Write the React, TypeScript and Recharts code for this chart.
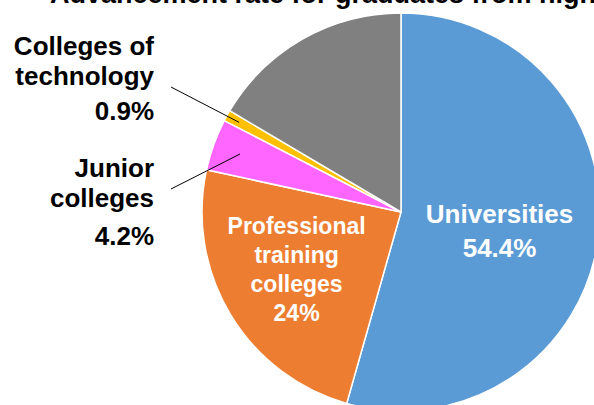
import React from "react";
import { PieChart, Pie, Cell } from "recharts";

const CATEGORIES = [
  "Universities",
  "Professional training colleges",
  "Junior colleges",
  "Colleges of technology",
  "Other",
];
const SHARES = [54.4, 24, 4.2, 0.9, 16.5];
const COLORS = ["#5B9BD5", "#ED7D31", "#FF66FF", "#FFC000", "#808080"];

const TITLE = "Advancement rate for graduates from high school";

const FONT = '"Liberation Sans", Arial, Helvetica, sans-serif';
const RAD = Math.PI / 180;

const data = CATEGORIES.map((name, i) => ({ name, value: SHARES[i] }));

type LabelCfg = {
  lines: string[];
  inside: boolean;
  size: number;
  lh: number;
  r?: number;
  nudge?: [number, number];
  // outside labels: right edge / first baseline relative to centre, leader line
  tx?: number;
  ty?: number[];
  lineFrom?: number;
  lineTo?: [number, number];
};

const LABELS: Record<string, LabelCfg> = {
  Universities: { lines: ["Universities"], inside: true, size: 26, lh: 34, r: 0.5, nudge: [0, 5] },
  "Professional training colleges": {
    lines: ["Professional", "training", "colleges"],
    inside: true,
    size: 23,
    lh: 29,
    r: 0.6,
    nudge: [-2, -4],
  },
  "Junior colleges": {
    lines: ["Junior", "colleges"],
    inside: false,
    size: 26,
    lh: 30,
    tx: -247,
    ty: [-35, -5, 33],
    lineFrom: 0.86,
    lineTo: [-230, -23],
  },
  "Colleges of technology": {
    lines: ["Colleges of", "technology"],
    inside: false,
    size: 26,
    lh: 30,
    tx: -247,
    ty: [-157, -127, -92],
    lineFrom: 0.93,
    lineTo: [-230, -125],
  },
};

function renderLabel(props: any) {
  const { cx, cy, midAngle, outerRadius, name, value } = props;
  const cfg = LABELS[name];
  if (!cfg) return null;
  const lines = [...cfg.lines, `${value}%`];
  if (cfg.inside) {
    const r = outerRadius * (cfg.r ?? 0.5);
    const x = cx + r * Math.cos(-midAngle * RAD) + (cfg.nudge?.[0] ?? 0);
    const y = cy + r * Math.sin(-midAngle * RAD) + (cfg.nudge?.[1] ?? 0);
    return (
      <text x={x} y={y} fill="#fff" fontSize={cfg.size} fontWeight="bold" fontFamily={FONT} textAnchor="middle">
        {lines.map((l, i) => (
          <tspan key={i} x={x} y={y + (i - (lines.length - 1) / 2) * cfg.lh + cfg.size * 0.35}>
            {l}
          </tspan>
        ))}
      </text>
    );
  }
  const f = cfg.lineFrom ?? 0.9;
  const x1 = cx + outerRadius * f * Math.cos(-midAngle * RAD);
  const y1 = cy + outerRadius * f * Math.sin(-midAngle * RAD);
  const [lx, ly] = cfg.lineTo ?? [0, 0];
  const tx = cx + (cfg.tx ?? 0);
  return (
    <g>
      <line x1={x1} y1={y1} x2={cx + lx} y2={cy + ly} stroke="#000" strokeWidth={1} />
      <text fill="#000" fontSize={cfg.size} fontWeight="bold" fontFamily={FONT} textAnchor="end">
        {lines.map((l, i) => (
          <tspan key={i} x={tx} y={cy + (cfg.ty?.[i] ?? 0)}>
            {l}
          </tspan>
        ))}
      </text>
    </g>
  );
}

export default function App() {
  return (
    <div style={{ position: "absolute", left: 0, top: 0, width: 594, height: 405, background: "#fff" }}>
      <PieChart width={594} height={405} margin={{ top: 0, right: 0, bottom: 0, left: 0 }}>
        <Pie
          data={data}
          dataKey="value"
          nameKey="name"
          cx={401}
          cy={212}
          outerRadius={199}
          startAngle={90}
          endAngle={-270}
          stroke="#fff"
          strokeWidth={1.5}
          label={renderLabel}
          labelLine={false}
          isAnimationActive={false}
        >
          {data.map((d, i) => (
            <Cell key={d.name} fill={COLORS[i]} />
          ))}
        </Pie>
      </PieChart>
      <svg width={594} height={405} style={{ position: "absolute", left: 0, top: 0, pointerEvents: "none" }}>
        <text x={50} y={3} fontSize={27} fontWeight="bold" fontFamily={FONT} fill="#000">
          {TITLE}
        </text>
      </svg>
    </div>
  );
}
